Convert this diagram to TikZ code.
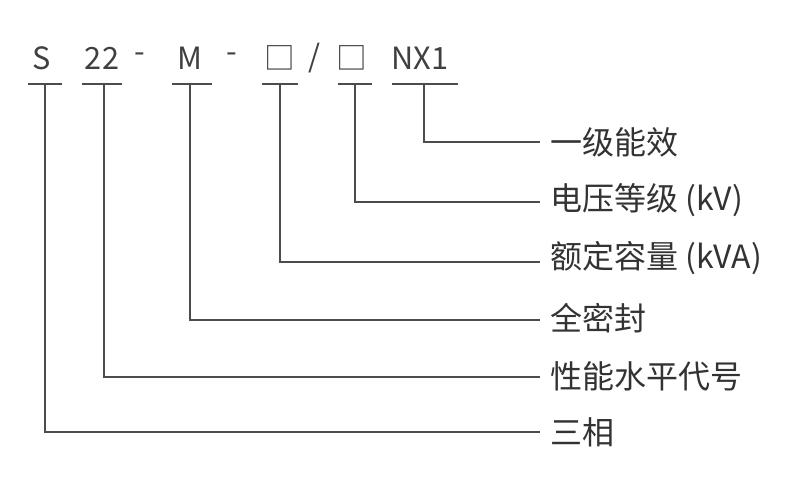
\documentclass[tikz,border=0pt]{standalone}
\usepackage{fontspec}
\setmainfont{Noto Sans CJK SC}
\begin{document}
\begin{tikzpicture}[x=0.75pt,y=-0.75pt,
  ln/.style={draw=black!70,line width=1.2pt},
  top/.style={text=black!75,font=\fontsize{23}{25}\selectfont,anchor=center,inner sep=0},
  lab/.style={text=black!80,font=\fontsize{24}{26}\selectfont,anchor=west,inner sep=0}]
\useasboundingbox (0,0) rectangle (800,500);
\node[top] (t1) at (42,58) {S};
\node[top] (t2) at (102,58) {22};
\node[top] (d1) at (140,58) {-};
\node[top] (t3) at (190,58) {M};
\node[top] (d2) at (232,58) {-};
\node[top] (t4) at (280,58) {□};
\node[top] (sl) at (315,58) {/};
\node[top] (t5) at (352,58) {□};
\node[top] (t6) at (420,58) {NX1};
\foreach \n/\a/\b in {1/28/62,2/82/122,3/172/212,4/262/298,5/338/372,6/392/458}
  \draw[ln] (\a,84) coordinate (bl\n) -- (\b,84) coordinate (br\n);
\node[lab] (l6) at (550,142) {一级能效};
\node[lab] (l5) at (550,200) {电压等级 (kV)};
\node[lab] (l4) at (550,258) {额定容量 (kVA)};
\node[lab] (l3) at (550,318) {全密封};
\node[lab] (l2) at (550,376) {性能水平代号};
\node[lab] (l1) at (550,432) {三相};
\foreach \n/\x/\y in {1/45/432,2/104/377,3/190/320,4/280/262,5/355/202,6/424/142}
  \draw[ln] (\x,84) -- (\x,\y) -- (540,\y);
\end{tikzpicture}
\end{document}
